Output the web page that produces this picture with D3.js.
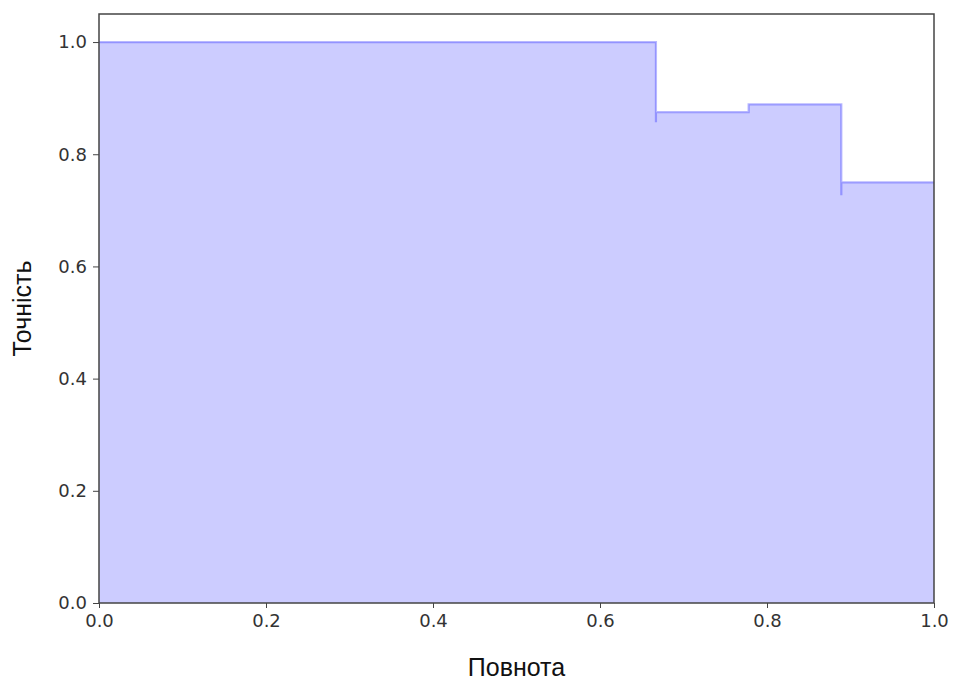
<!DOCTYPE html>
<html>
<head>
<meta charset="utf-8">
<script src="https://cdn.jsdelivr.net/npm/d3@7"></script>
<style>
  body { margin: 0; background: #fff; }
  .tick text { font-family: "DejaVu Sans", sans-serif; font-size: 18px; fill: #333; }
  .tick line { stroke: #444; }
  .axis-label { font-family: "Liberation Sans", Arial, sans-serif; font-size: 25px; fill: #111; }
</style>
</head>
<body>
<svg id="chart"></svg>
<script>
// precision-recall points, in the order sklearn returns them (recall decreasing)
var recall = [1.0, 0.889, 0.889, 0.778, 0.667, 0.667, 0.0];
var precision = [0.75, 0.727, 0.889, 0.875, 0.857, 1.0, 1.0];
var tickValues = [0, 0.2, 0.4, 0.6, 0.8, 1.0];

var width = 958,
  height = 682;
var margin = { left: 99, right: 24, top: 14, bottom: 79 };

var svg = d3.select("#chart").attr("width", width).attr("height", height);

var x = d3.scaleLinear().domain([0, 1]).range([margin.left, width - margin.right]);
var y = d3.scaleLinear().domain([0, 1.05]).range([height - margin.bottom, margin.top]);

var pts = recall.map(function (r, i) {
  return { r: r, p: precision[i] };
});

var area = d3
  .area()
  .curve(d3.curveStepAfter)
  .x(function (d) { return x(d.r); })
  .y0(y(0))
  .y1(function (d) { return y(d.p); });

var line = d3
  .line()
  .curve(d3.curveStepAfter)
  .x(function (d) { return x(d.r); })
  .y(function (d) { return y(d.p); });

svg.append("path").datum(pts).attr("d", area).attr("fill", "blue").attr("fill-opacity", 0.2);

svg
  .append("path")
  .datum(pts)
  .attr("d", line)
  .attr("fill", "none")
  .attr("stroke", "blue")
  .attr("stroke-opacity", 0.28)
  .attr("stroke-width", 2.2);

var xAxis = svg
  .append("g")
  .attr("transform", "translate(0," + y(0) + ")")
  .call(d3.axisBottom(x).tickValues(tickValues).tickFormat(d3.format(".1f")).tickSize(5).tickPadding(6));

var yAxis = svg
  .append("g")
  .attr("transform", "translate(" + x(0) + ",0)")
  .call(d3.axisLeft(y).tickValues(tickValues).tickFormat(d3.format(".1f")).tickSize(6).tickPadding(6));

xAxis.select(".domain").remove();
yAxis.select(".domain").remove();

// frame
svg
  .append("rect")
  .attr("x", x(0))
  .attr("y", y(1.05))
  .attr("width", x(1) - x(0))
  .attr("height", y(0) - y(1.05))
  .attr("fill", "none")
  .attr("stroke", "#444")
  .attr("stroke-width", 1.5);

svg
  .append("text")
  .attr("class", "axis-label")
  .attr("x", (x(0) + x(1)) / 2)
  .attr("y", 676)
  .attr("text-anchor", "middle")
  .text("Повнота");

svg
  .append("text")
  .attr("class", "axis-label")
  .attr("transform", "translate(31," + (y(0) + y(1.05)) / 2 + ") rotate(-90)")
  .attr("text-anchor", "middle")
  .text("Точність");
</script>
</body>
</html>
